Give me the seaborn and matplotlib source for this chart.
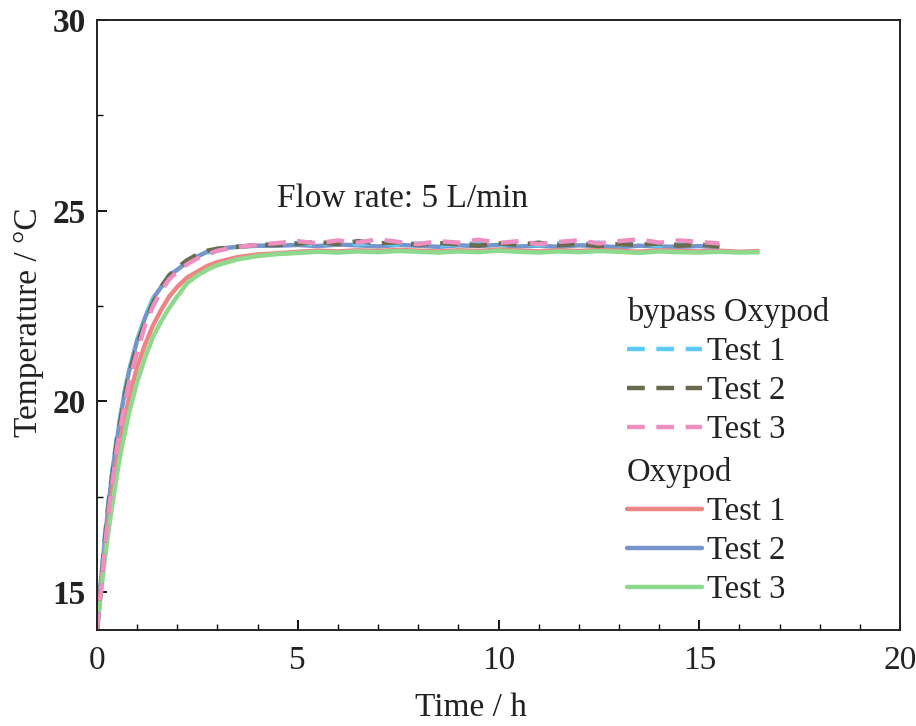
import numpy as np
import pandas as pd
import matplotlib
matplotlib.use("Agg")
import matplotlib.pyplot as plt
import seaborn as sns
from matplotlib.lines import Line2D
from matplotlib.ticker import MultipleLocator

# ---------------- data ----------------
t_rise = [0, 0.1, 0.2, 0.3, 0.4, 0.5, 0.6, 0.7, 0.8, 0.9, 1.0,
          1.2, 1.4, 1.6, 1.8, 2.0, 2.25, 2.5, 2.75, 3.0, 3.5, 4.0]
t_plat_bypass = [4.5, 5.0, 5.5, 6.0, 6.5, 7.0, 7.5, 8.0, 8.5, 9.0, 9.5, 10.0,
                 10.5, 11.0, 11.5, 12.0, 12.5, 13.0, 13.5, 14.0, 14.5, 15.0, 15.5]
t_plat_oxy = [4.5, 5.0, 5.5, 6.0, 6.5, 7.0, 7.5, 8.0, 8.5, 9.0, 9.5, 10.0,
              10.5, 11.0, 11.5, 12.0, 12.5, 13.0, 13.5, 14.0, 14.5, 15.0, 15.5,
              16.0, 16.5]

bypass_test1 = [14.0, 15.3, 16.5, 17.5, 18.3, 19.1, 19.7, 20.3, 20.8, 21.2, 21.6,
                22.2, 22.7, 23.0, 23.3, 23.5, 23.7, 23.8, 23.9, 23.95, 24.05, 24.1,
                24.12, 24.15, 24.10, 24.18, 24.12, 24.16, 24.10, 24.14, 24.08, 24.12,
                24.15, 24.10, 24.13, 24.09, 24.14, 24.11, 24.16, 24.10, 24.13, 24.08,
                24.12, 24.10, 24.09]
bypass_test2 = [14.0, 15.2, 16.4, 17.4, 18.2, 19.0, 19.6, 20.2, 20.7, 21.1, 21.5,
                22.1, 22.6, 23.0, 23.3, 23.5, 23.7, 23.85, 23.95, 24.0, 24.05, 24.1,
                24.10, 24.13, 24.18, 24.12, 24.20, 24.14, 24.17, 24.10, 24.15, 24.12,
                24.08, 24.14, 24.10, 24.16, 24.09, 24.13, 24.07, 24.12, 24.10, 24.14,
                24.08, 24.11, 24.06]
bypass_test3 = [14.0, 15.1, 16.2, 17.2, 18.0, 18.8, 19.4, 20.0, 20.5, 20.9, 21.3,
                22.0, 22.5, 22.9, 23.2, 23.4, 23.6, 23.75, 23.85, 23.95, 24.05, 24.1,
                24.15, 24.20, 24.14, 24.22, 24.16, 24.25, 24.18, 24.12, 24.20, 24.16,
                24.24, 24.15, 24.20, 24.12, 24.18, 24.22, 24.14, 24.20, 24.25, 24.16,
                24.22, 24.18, 24.14]

oxypod_test1 = [14.0, 15.1, 16.1, 17.0, 17.8, 18.5, 19.1, 19.6, 20.1, 20.5, 20.9,
                21.5, 22.0, 22.4, 22.75, 23.0, 23.25, 23.4, 23.55, 23.65, 23.78, 23.85,
                23.88, 23.92, 23.95, 23.93, 23.96, 23.94, 23.97, 23.95, 23.93, 23.96,
                23.94, 23.98, 23.95, 23.93, 23.96, 23.94, 23.97, 23.95, 23.92, 23.96,
                23.94, 23.93, 23.95, 23.92, 23.94]
oxypod_test2 = [14.0, 15.3, 16.4, 17.4, 18.3, 19.0, 19.7, 20.3, 20.8, 21.2, 21.6,
                22.2, 22.7, 23.0, 23.3, 23.45, 23.65, 23.8, 23.92, 24.0, 24.05, 24.08,
                24.08, 24.10, 24.07, 24.11, 24.09, 24.06, 24.10, 24.08, 24.05, 24.09,
                24.07, 24.10, 24.06, 24.08, 24.05, 24.09, 24.07, 24.04, 24.08, 24.06,
                24.05, 24.07, 24.04]
oxypod_test3 = [14.0, 15.0, 15.9, 16.7, 17.4, 18.1, 18.7, 19.2, 19.7, 20.1, 20.5,
                21.15, 21.7, 22.1, 22.45, 22.75, 23.1, 23.3, 23.45, 23.57, 23.72, 23.81,
                23.86, 23.89, 23.92, 23.90, 23.93, 23.91, 23.94, 23.92, 23.90, 23.93,
                23.91, 23.95, 23.92, 23.90, 23.93, 23.91, 23.94, 23.92, 23.89, 23.93,
                23.91, 23.90, 23.92, 23.90, 23.91]

labels = ["Test 1", "Test 2", "Test 3"]
annotation = "Flow rate: 5 L/min"

# ---------------- styling ----------------
sns.set_style("ticks")
plt.rcParams["font.family"] = ["Liberation Serif", "DejaVu Serif"]

c_b1, c_b2, c_b3 = "#5ccbf4", "#6a6a4e", "#ee8fc2"
c_o1, c_o2, c_o3 = "#ee8585", "#7595cc", "#8fd98f"
TXT = "#222222"

fig = plt.figure(figsize=(9.16, 7.26), dpi=100)
ax = fig.add_axes([97 / 916, 1 - 630 / 726, (900 - 97) / 916, (630 - 20) / 726])

t_bypass = t_rise + t_plat_bypass
t_oxy = t_rise + t_plat_oxy

LW = 3.2
DASH = (4, 2.6)


def draw(t, y, color, dashed):
    df = pd.DataFrame({"t": t, "T": y})
    n0 = len(ax.lines)
    sns.lineplot(data=df, x="t", y="T", ax=ax, color=color, lw=LW,
                 estimator=None, sort=False, legend=False)
    line = ax.lines[n0]
    if dashed:
        line.set_dashes(DASH)
    line.set_solid_capstyle("butt")
    line.set_dash_capstyle("butt")
    return line


draw(t_bypass, oxypod_test2, c_o2, False)
draw(t_oxy, oxypod_test1, c_o1, False)
draw(t_oxy, oxypod_test3, c_o3, False)
draw(t_bypass, bypass_test1, c_b1, True)
draw(t_bypass, bypass_test2, c_b2, True)
draw(t_bypass, bypass_test3, c_b3, True)

ax.set_xlim(0, 20)
ax.set_ylim(14, 30)
ax.xaxis.set_major_locator(MultipleLocator(5))
ax.xaxis.set_minor_locator(MultipleLocator(1))
ax.yaxis.set_major_locator(MultipleLocator(5))
ax.yaxis.set_minor_locator(MultipleLocator(2.5))
ax.tick_params(which="both", direction="in", top=False, right=False, color="black")
ax.tick_params(which="major", length=7, width=1.3)
ax.tick_params(which="minor", length=4, width=1.0)
ax.tick_params(axis="x", labelsize=24, pad=11, labelcolor=TXT)
ax.tick_params(axis="y", labelsize=24, pad=8, labelcolor=TXT)
for lab in ax.get_yticklabels():
    lab.set_fontweight("bold")
for s in ax.spines.values():
    s.set_visible(True)
    s.set_linewidth(1.4)
    s.set_color("#222222")

ax.set_xlabel("Time / h", fontsize=24, color=TXT)
ax.xaxis.set_label_coords((471 - 97) / 803, -(693 - 630) / 610)
ax.set_ylabel("Temperature / °C", fontsize=24, color=TXT)
ax.yaxis.set_label_coords(-(97 - 44) / 803, (630 - 322) / 610)

ax.text(4.48, 25.32, annotation, fontsize=24, ha="left", va="center", color=TXT)

# ---------------- legends ----------------
h_b = [Line2D([], [], color=c, lw=LW, dashes=DASH) for c in (c_b1, c_b2, c_b3)]
h_o = [Line2D([], [], color=c, lw=LW) for c in (c_o1, c_o2, c_o3)]
common = dict(frameon=False, fontsize=23.5, title_fontsize=23.5, handlelength=2.3,
              handletextpad=0.15, labelspacing=0.26, borderpad=0, borderaxespad=0,
              loc="upper left", alignment="left")
leg1 = ax.legend(h_b, labels, title="bypass Oxypod",
                 bbox_to_anchor=(627 / 916, 1 - 297 / 726),
                 bbox_transform=fig.transFigure, **common)
ax.add_artist(leg1)
leg2 = ax.legend(h_o, labels, title="Oxypod",
                 bbox_to_anchor=(627 / 916, 1 - 457 / 726),
                 bbox_transform=fig.transFigure, **common)
for lg in (leg1, leg2):
    lg.get_title().set_color(TXT)
    for tx in lg.get_texts():
        tx.set_color(TXT)

fig.savefig("out.png", dpi=100)
